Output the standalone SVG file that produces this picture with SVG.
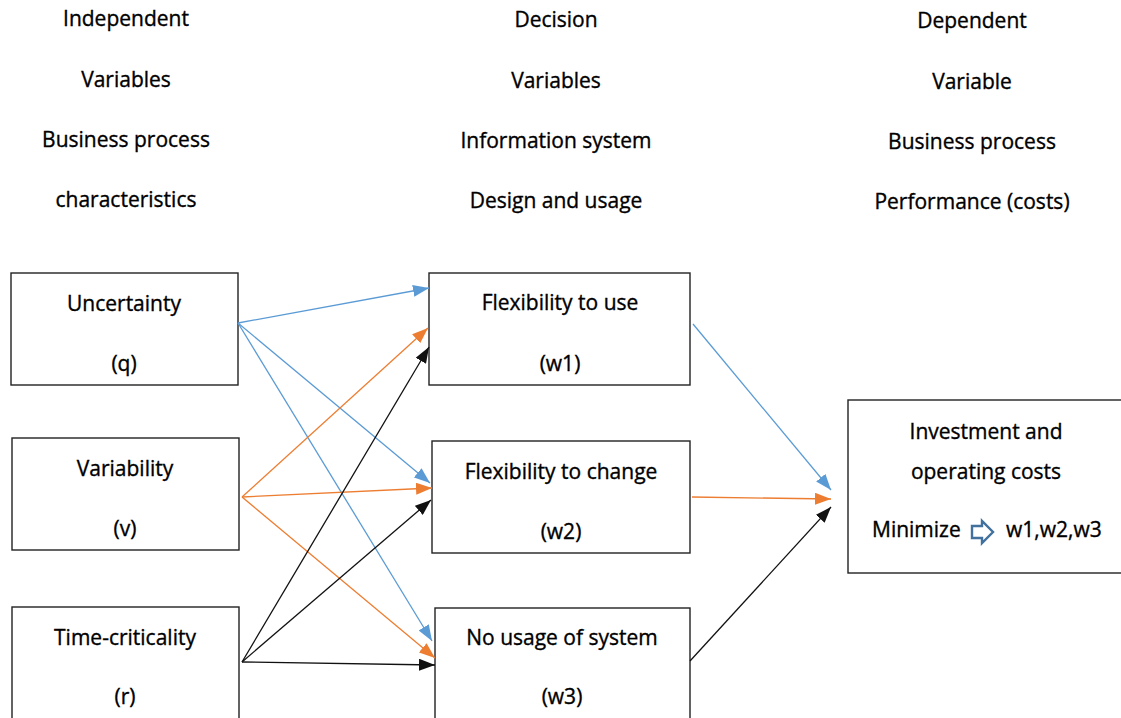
<svg xmlns="http://www.w3.org/2000/svg" width="1121" height="718" viewBox="0 0 1121 718">
<style>
  text { font-family: "Open Sans", "Noto Sans", "Liberation Sans", sans-serif; font-size: 21px; font-weight: 500; fill: #000; stroke: #000; stroke-width: 0.35; text-anchor: middle; }
  .box { fill: #fff; stroke: #222; stroke-width: 1.4; }
  .blue { stroke: #5B9BD5; stroke-width: 1.3; fill: none; }
  .orange { stroke: #ED7D31; stroke-width: 1.3; fill: none; }
  .black { stroke: #111; stroke-width: 1.3; fill: none; }
</style>
<defs>
  <marker id="ab" markerUnits="userSpaceOnUse" markerWidth="17" markerHeight="12" refX="16" refY="6" orient="auto"><path d="M0,0 L16,6 L0,12 Z" fill="#5B9BD5"/></marker>
  <marker id="ao" markerUnits="userSpaceOnUse" markerWidth="17" markerHeight="12" refX="16" refY="6" orient="auto"><path d="M0,0 L16,6 L0,12 Z" fill="#ED7D31"/></marker>
  <marker id="ak" markerUnits="userSpaceOnUse" markerWidth="17" markerHeight="12" refX="16" refY="6" orient="auto"><path d="M0,0 L16,6 L0,12 Z" fill="#111"/></marker>
</defs>
<rect width="1121" height="718" fill="#fff"/>

<g id="headers">
  <text x="126" y="26">Independent</text>
  <text x="126" y="87">Variables</text>
  <text x="126" y="147">Business process</text>
  <text x="126" y="207">characteristics</text>
  <text x="556" y="27">Decision</text>
  <text x="556" y="88">Variables</text>
  <text x="556" y="148">Information system</text>
  <text x="556" y="208">Design and usage</text>
  <text x="972" y="28">Dependent</text>
  <text x="972" y="89">Variable</text>
  <text x="972" y="149">Business process</text>
  <text x="972" y="209">Performance (costs)</text>
</g>

<g id="node-uncertainty">
  <rect class="box" x="11" y="273" width="227" height="112"/>
  <text x="124" y="311">Uncertainty</text>
  <text x="124" y="371">(q)</text>
</g>
<g id="node-variability">
  <rect class="box" x="12" y="438" width="227" height="112"/>
  <text x="125" y="476">Variability</text>
  <text x="125" y="536">(v)</text>
</g>
<g id="node-time">
  <rect class="box" x="12" y="607" width="227" height="120"/>
  <text x="125" y="645">Time-criticality</text>
  <text x="125" y="704">(r)</text>
</g>
<g id="node-w1">
  <rect class="box" x="429" y="273" width="261" height="112"/>
  <text x="560" y="310">Flexibility to use</text>
  <text x="560" y="371">(w1)</text>
</g>
<g id="node-w2">
  <rect class="box" x="432" y="441" width="258" height="112"/>
  <text x="561" y="479">Flexibility to change</text>
  <text x="561" y="539">(w2)</text>
</g>
<g id="node-w3">
  <rect class="box" x="435" y="608" width="255" height="120"/>
  <text x="562" y="645">No usage of system</text>
  <text x="562" y="704">(w3)</text>
</g>
<g id="node-costs">
  <rect class="box" x="848" y="400" width="280" height="173"/>
  <text x="986" y="439">Investment and</text>
  <text x="986" y="479">operating costs</text>
  <text x="872" y="537" style="text-anchor:start">Minimize</text>
  <path d="M972,526 H982 V521 L993,532 L982,543 V538 H972 Z" fill="#fff" stroke="#41719C" stroke-width="2.4" stroke-linejoin="miter"/>
  <text x="1006" y="537" style="text-anchor:start">w1,w2,w3</text>
</g>

<g id="connectors">
  <line class="blue" x1="238" y1="323" x2="429" y2="288" marker-end="url(#ab)"/>
  <line class="blue" x1="238" y1="323" x2="430" y2="483" marker-end="url(#ab)"/>
  <line class="blue" x1="238" y1="323" x2="432" y2="641" marker-end="url(#ab)"/>
  <line class="orange" x1="242" y1="497" x2="428" y2="328" marker-end="url(#ao)"/>
  <line class="orange" x1="242" y1="497" x2="432" y2="488" marker-end="url(#ao)"/>
  <line class="orange" x1="242" y1="497" x2="435" y2="658" marker-end="url(#ao)"/>
  <line class="black" x1="242" y1="662" x2="429" y2="347" marker-end="url(#ak)"/>
  <line class="black" x1="242" y1="662" x2="431" y2="500" marker-end="url(#ak)"/>
  <line class="black" x1="242" y1="662" x2="435" y2="665" marker-end="url(#ak)"/>
  <line class="blue" x1="693" y1="324" x2="831" y2="490" marker-end="url(#ab)"/>
  <line class="orange" x1="692" y1="497" x2="831" y2="499" marker-end="url(#ao)"/>
  <line class="black" x1="690" y1="661" x2="831" y2="507" marker-end="url(#ak)"/>
</g>
</svg>
